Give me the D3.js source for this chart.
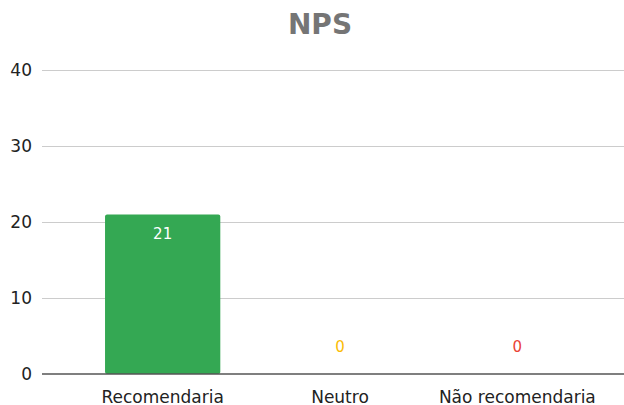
<!DOCTYPE html>
<html>
<head>
<meta charset="utf-8">
<script src="https://cdn.jsdelivr.net/npm/d3@7"></script>
<style>
body { margin: 0; background: #fff; }
text { font-family: "DejaVu Sans", sans-serif; }
</style>
</head>
<body>
<svg id="chart" width="624" height="405"></svg>
<script>
// data
var categories = ["Recomendaria", "Neutro", "Não recomendaria"];
var values = [21, 0, 0];
var colors = ["#34a853", "#fbbc04", "#ea4335"];
var yTicks = [0, 10, 20, 30, 40];

var svg = d3.select("#chart");

// plot area
var plotLeft = 42, plotRight = 624, plotTop = 70, plotBottom = 374;

// scales
var x = d3.scaleBand()
    .domain(categories)
    .range([74, 606])
    .paddingInner(0.35)
    .paddingOuter(0.175);

var y = d3.scaleLinear()
    .domain([0, 40])
    .range([plotBottom, plotTop]);

// title
svg.append("text")
    .attr("x", 320)
    .attr("y", 34)
    .attr("text-anchor", "middle")
    .attr("font-size", 28)
    .attr("font-weight", "bold")
    .attr("fill", "#757575")
    .text("NPS");

// grid
svg.append("g").selectAll("line")
    .data(yTicks.filter(function(d) { return d > 0; }))
    .enter().append("line")
    .attr("x1", plotLeft).attr("x2", plotRight)
    .attr("y1", function(d) { return y(d) + 0.5; })
    .attr("y2", function(d) { return y(d) + 0.5; })
    .attr("stroke", "#cccccc")
    .attr("stroke-width", 1);

// y labels
svg.append("g").selectAll("text")
    .data(yTicks)
    .enter().append("text")
    .attr("x", 32)
    .attr("y", function(d) { return y(d); })
    .attr("dy", "0.35em")
    .attr("text-anchor", "end")
    .attr("font-size", 17)
    .attr("fill", "#222")
    .text(function(d) { return d; });

// bars
svg.append("g").selectAll("rect")
    .data(values)
    .enter().append("rect")
    .attr("x", function(d, i) { return x(categories[i]); })
    .attr("y", function(d) { return y(d); })
    .attr("width", x.bandwidth())
    .attr("height", function(d) { return plotBottom - y(d); })
    .attr("rx", 2)
    .attr("fill", function(d, i) { return colors[i]; });

// baseline
svg.append("line")
    .attr("x1", plotLeft).attr("x2", plotRight)
    .attr("y1", plotBottom).attr("y2", plotBottom)
    .attr("stroke", "#555")
    .attr("stroke-width", 1.5);

// value labels
svg.append("g").selectAll("text")
    .data(values)
    .enter().append("text")
    .attr("x", function(d, i) { return x(categories[i]) + x.bandwidth() / 2; })
    .attr("y", function(d) { return d > 0 ? y(d) + 19 : y(d) - 27; })
    .attr("dy", "0.35em")
    .attr("text-anchor", "middle")
    .attr("font-size", 15)
    .attr("fill", function(d, i) { return d > 0 ? "#ffffff" : colors[i]; })
    .text(function(d) { return d; });

// x labels
svg.append("g").selectAll("text")
    .data(categories)
    .enter().append("text")
    .attr("x", function(d) { return x(d) + x.bandwidth() / 2; })
    .attr("y", 397)
    .attr("dy", "0.35em")
    .attr("text-anchor", "middle")
    .attr("font-size", 17)
    .attr("fill", "#222")
    .text(function(d) { return d; });
</script>
</body>
</html>
